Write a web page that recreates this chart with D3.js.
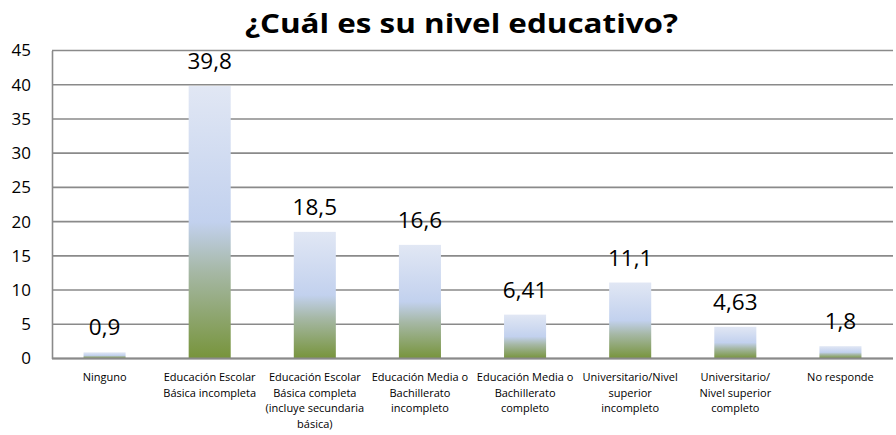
<!DOCTYPE html>
<html>
<head>
<meta charset="utf-8">
<script src="https://cdn.jsdelivr.net/npm/d3@7"></script>
<style>
  body { margin: 0; background: #fff; }
  svg { display: block; font-family: "Open Sans", sans-serif; }
</style>
</head>
<body>
<div id="chart"></div>
<script>
// data
const categories = [
  ["Ninguno"],
  ["Educación Escolar", "Básica incompleta"],
  ["Educación Escolar", "Básica completa", "(incluye secundaria", "básica)"],
  ["Educación Media o", "Bachillerato", "incompleto"],
  ["Educación Media o", "Bachillerato", "completo"],
  ["Universitario/Nivel", "superior", "incompleto"],
  ["Universitario/", "Nivel superior", "completo"],
  ["No responde"]
];
const values = [0.9, 39.8, 18.5, 16.6, 6.41, 11.1, 4.63, 1.8];
const valueLabels = ["0,9", "39,8", "18,5", "16,6", "6,41", "11,1", "4,63", "1,8"];
const yTicks = [0, 5, 10, 15, 20, 25, 30, 35, 40, 45];
const title = "¿Cuál es su nivel educativo?";

const w = 896, h = 435;
const margin = { top: 50.5, right: 3, bottom: 76.5, left: 52 };

const svg = d3.select("#chart")
  .append("svg")
  .attr("width", w)
  .attr("height", h);

// bar gradient: light on top, blue in the middle, green at the foot
const grad = svg.append("defs")
  .append("linearGradient")
  .attr("id", "barFill")
  .attr("x1", 0).attr("y1", 0)
  .attr("x2", 0).attr("y2", 1);
grad.append("stop").attr("offset", "0%").attr("stop-color", "#e1e7f4");
grad.append("stop").attr("offset", "50%").attr("stop-color", "#c2d1ee");
grad.append("stop").attr("offset", "68%").attr("stop-color", "#a6b8a6");
grad.append("stop").attr("offset", "100%").attr("stop-color", "#77943b");

const xScale = d3.scaleBand()
  .domain(d3.range(categories.length))
  .range([margin.left, w - margin.right])
  .paddingInner(0.6)
  .paddingOuter(0.3);

const yScale = d3.scaleLinear()
  .domain([0, 45])
  .range([h - margin.bottom, margin.top]);

// gridlines
svg.append("g")
  .attr("class", "grid")
  .selectAll("line")
  .data(yTicks)
  .enter()
  .append("line")
  .attr("x1", margin.left)
  .attr("x2", w - margin.right)
  .attr("y1", d => yScale(d))
  .attr("y2", d => yScale(d))
  .attr("stroke", "#8a8a8a")
  .attr("stroke-width", 1.6);

// y axis
const yAxis = d3.axisLeft(yScale)
  .tickValues(yTicks)
  .tickSize(0)
  .tickPadding(21);

svg.append("g")
  .attr("id", "y-axis")
  .attr("transform", "translate(" + margin.left + ",0)")
  .call(yAxis)
  .call(g => g.select(".domain").attr("stroke", "#8a8a8a").attr("stroke-width", 1.6))
  .call(g => g.selectAll("text")
    .attr("font-family", "'Open Sans', sans-serif")
    .attr("font-size", 17)
    .attr("fill", "#000"));

// bars
svg.selectAll("rect.bar")
  .data(values)
  .enter()
  .append("rect")
  .attr("class", "bar")
  .attr("x", (d, i) => xScale(i))
  .attr("y", d => yScale(d))
  .attr("width", xScale.bandwidth())
  .attr("height", d => yScale(0) - yScale(d))
  .attr("fill", "url(#barFill)");

// x axis line
svg.append("line")
  .attr("x1", margin.left)
  .attr("x2", w - margin.right)
  .attr("y1", yScale(0))
  .attr("y2", yScale(0))
  .attr("stroke", "#8a8a8a")
  .attr("stroke-width", 1.8);

// value labels
svg.selectAll("text.value")
  .data(values)
  .enter()
  .append("text")
  .attr("class", "value")
  .attr("x", (d, i) => xScale(i) + xScale.bandwidth() / 2)
  .attr("y", d => yScale(d) - 17)
  .attr("text-anchor", "middle")
  .attr("font-size", 22.5)
  .text((d, i) => valueLabels[i]);

// category labels
const cats = svg.selectAll("text.cat")
  .data(categories)
  .enter()
  .append("text")
  .attr("class", "cat")
  .attr("text-anchor", "middle")
  .attr("font-size", 11)
  .attr("transform", (d, i) => "translate(" + (xScale(i) + xScale.bandwidth() / 2) + "," + (yScale(0) + 22.5) + ")");

cats.selectAll("tspan")
  .data(d => d)
  .enter()
  .append("tspan")
  .attr("x", 0)
  .attr("y", (d, j) => j * 15.5)
  .text(d => d);

// title (the reference lettering is wide, so stretch it to the same width)
svg.append("text")
  .attr("x", 461.5)
  .attr("y", 33)
  .attr("text-anchor", "middle")
  .attr("font-size", 27)
  .attr("font-weight", "bold")
  .attr("textLength", 433)
  .attr("lengthAdjust", "spacingAndGlyphs")
  .text(title);
</script>
</body>
</html>
